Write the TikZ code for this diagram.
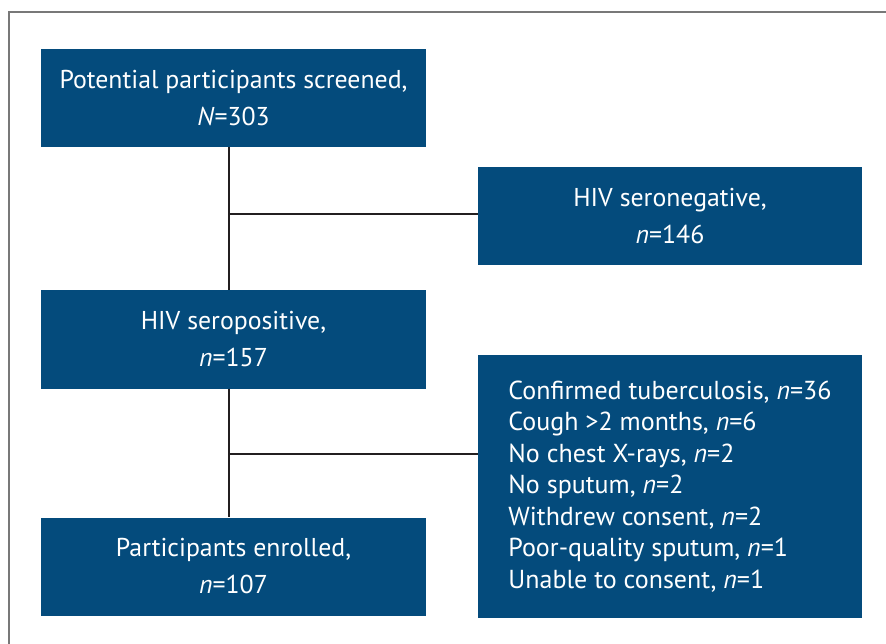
\documentclass[tikz,border=0pt]{standalone}
\usepackage{fontspec}
\setmainfont{PT Sans}
\definecolor{boxblue}{RGB}{4,75,124}
\definecolor{linedark}{RGB}{35,31,32}
\definecolor{framegray}{RGB}{120,120,120}
\begin{document}
\begin{tikzpicture}[x=1pt,y=-1pt,
  box/.style={fill=boxblue, text=white, inner sep=0pt, minimum width=385pt,
    minimum height=98pt, align=center, font=\fontsize{25.8}{37}\selectfont},
  listbox/.style={box, minimum width=384pt, minimum height=263pt, align=left,
    font=\fontsize{26}{31.5}\selectfont},
  conn/.style={draw=linedark, line width=2pt}]
\useasboundingbox (0,0) rectangle (886,644);
\draw[framegray, line width=1.5pt] (9,644) -- (9,12) -- (886,12);
\node[box] (scr) at (233.5,98) {Potential participants screened,\\\textit{N}=303};
\node[box, minimum width=384pt] (neg) at (670,216) {HIV seronegative,\\\textit{n}=146};
\node[box] (pos) at (233.5,339.5) {HIV seropositive,\\\textit{n}=157};
\node[listbox] (exc) at (670,486.5) {Confirmed tuberculosis, \textit{n}=36\\
Cough >2 months, \textit{n}=6\\
No chest X-rays, \textit{n}=2\\
No sputum, \textit{n}=2\\
Withdrew consent, \textit{n}=2\\
Poor-quality sputum, \textit{n}=1\\
Unable to consent, \textit{n}=1};
\node[box] (enr) at (233.5,566.5) {Participants enrolled,\\\textit{n}=107};
\coordinate (j1) at (229,214);
\coordinate (j2) at (229,454);
\draw[conn] (scr.south -| j1) -- (pos.north -| j1);
\draw[conn] (j1) -- (neg.west |- j1);
\draw[conn] (pos.south -| j2) -- (enr.north -| j2);
\draw[conn] (j2) -- (exc.west |- j2);
\end{tikzpicture}
\end{document}
